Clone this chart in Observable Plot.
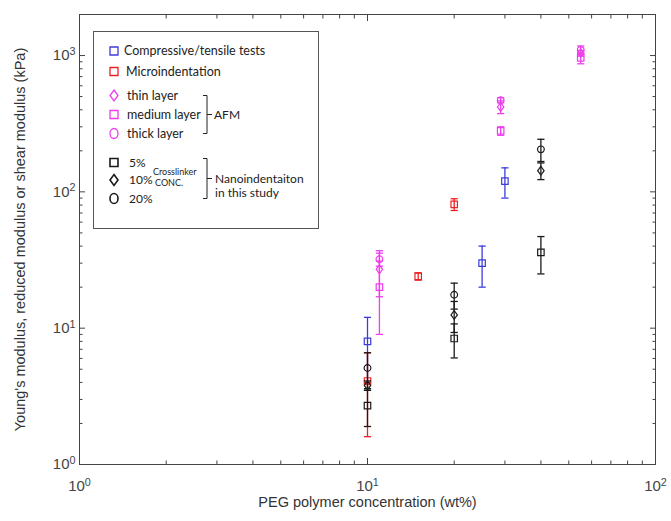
<!DOCTYPE html>
<html><head><meta charset="utf-8">
<script src="https://cdn.jsdelivr.net/npm/d3@7"></script>
<script src="https://cdn.jsdelivr.net/npm/@observablehq/plot@0.6"></script>
<style>
body{margin:0;background:#fff;}
#wrap{position:relative;width:671px;height:521px;overflow:hidden;}
#legend{position:absolute;left:93px;top:31px;}
</style></head><body><div id="wrap"></div>
<script>
// ---- data ----
const compX = [10, 25, 30], compY = [8, 30, 120], compErr = [4, 10, 30];
const microX = [10, 15, 20], microY = [4.1, 24, 81], microErr = [2.5, 1.5, 8];
const afmX = [11, 29, 55];
const thinY = [27, 420, 1040], thinErr = [10, 45, 50];
const mediumY = [20, 280, 960], mediumErr = [11, 20, 90];
const thickY = [32, 470, 1100], thickErr = [3.5, 20, 75];
const nanoX = [10, 20, 40];
const c5Y = [2.7, 8.4, 36], c5Err = [0.8, 2.35, 11];
const c10Y = [3.8, 12.5, 143], c10Err = [0.3, 3.2, 20];
const c20Y = [5.1, 17.6, 205], c20Err = [1.5, 3.8, 38];
const xMajor = [1, 10, 100];
const yMajor = [1, 10, 100, 1000];
const xLabel = "PEG polymer concentration (wt%)";
const yLabel = "Young's modulus, reduced modulus or shear modulus (kPa)";

const BLUE = "#3c3cdc", RED = "#ee2222", PINK = "#ee3cee", BLACK = "#1a1a1a";

const symSquare = {draw(c, size){const r = Math.sqrt(size/Math.PI); const s = r*0.85; c.rect(-s, -s, 2*s, 2*s);}};
const symDiamond = {draw(c, size){const r = Math.sqrt(size/Math.PI); c.moveTo(0, -r*1.15); c.lineTo(r*0.85, 0); c.lineTo(0, r*1.15); c.lineTo(-r*0.85, 0); c.closePath();}};
const symCircle = {draw(c, size){const r = Math.sqrt(size/Math.PI)*0.88; c.moveTo(r, 0); c.arc(0, 0, r, 0, 2*Math.PI);}};
const symCap = {draw(c, size){const r = Math.sqrt(size/Math.PI); c.moveTo(-r, 0); c.lineTo(r, 0);}};

const series = [
  {color: BLUE, sym: symSquare, x: compX, y: compY, err: compErr},
  {color: RED, sym: symSquare, x: microX, y: microY, err: microErr},
  {color: PINK, sym: symDiamond, x: afmX, y: thinY, err: thinErr},
  {color: PINK, sym: symSquare, x: afmX, y: mediumY, err: mediumErr},
  {color: PINK, sym: symCircle, x: afmX, y: thickY, err: thickErr},
  {color: BLACK, sym: symSquare, x: nanoX, y: c5Y, err: c5Err},
  {color: BLACK, sym: symDiamond, x: nanoX, y: c10Y, err: c10Err},
  {color: BLACK, sym: symCircle, x: nanoX, y: c20Y, err: c20Err}
];

const seriesMarks = series.flatMap(s => {
  const rows = s.x.map((x, i) => ({x, y: s.y[i], lo: s.y[i] - s.err[i], hi: s.y[i] + s.err[i]}));
  return [
    Plot.ruleX(rows, {x: "x", y1: "lo", y2: "hi", stroke: s.color, strokeWidth: 1.3}),
    Plot.dot(rows, {x: "x", y: "lo", symbol: symCap, r: 3.6, stroke: s.color, strokeWidth: 1.3}),
    Plot.dot(rows, {x: "x", y: "hi", symbol: symCap, r: 3.6, stroke: s.color, strokeWidth: 1.3}),
    Plot.dot(rows, {x: "x", y: "y", symbol: s.sym, r: 3.8, stroke: s.color, fill: "none", strokeWidth: 1.2})
  ];
});

const xMinor = [], yMinor = [];
for (const d of [1, 10]) for (let k = 2; k <= 9; k++) xMinor.push(k*d);
for (const d of [1, 10, 100]) for (let k = 2; k <= 9; k++) yMinor.push(k*d);

const AX = "#444";
const fmt = d => "10^" + Math.round(Math.log10(d));

const chart = Plot.plot({
  width: 671, height: 521,
  marginLeft: 79, marginRight: 16, marginTop: 14, marginBottom: 57,
  x: {type: "log", domain: [1, 100]},
  y: {type: "log", domain: [1, 2000]},
  style: {fontFamily: "'Liberation Sans', Arial, sans-serif", background: "#fff"},
  marks: [
    // tick marks (inward) on all four sides
    Plot.axisX({anchor: "bottom", ticks: xMajor, tickSize: -6, tickFormat: () => "", label: null, stroke: AX}),
    Plot.axisX({anchor: "bottom", ticks: xMinor, tickSize: -3.5, tickFormat: () => "", label: null, stroke: AX}),
    Plot.axisX({anchor: "top", ticks: xMajor, tickSize: -6, tickFormat: () => "", label: null, stroke: AX}),
    Plot.axisX({anchor: "top", ticks: xMinor, tickSize: -3.5, tickFormat: () => "", label: null, stroke: AX}),
    Plot.axisY({anchor: "left", ticks: yMajor, tickSize: -6, tickFormat: () => "", label: null, stroke: AX}),
    Plot.axisY({anchor: "left", ticks: yMinor, tickSize: -3.5, tickFormat: () => "", label: null, stroke: AX}),
    Plot.axisY({anchor: "right", ticks: yMajor, tickSize: -6, tickFormat: () => "", label: null, stroke: AX}),
    Plot.axisY({anchor: "right", ticks: yMinor, tickSize: -3.5, tickFormat: () => "", label: null, stroke: AX}),
    // tick labels
    Plot.axisX({anchor: "bottom", ticks: xMajor, tickSize: 0, tickPadding: 16, tickFormat: fmt, label: null, fontSize: 15, fill: AX, className: "tl"}),
    Plot.axisY({anchor: "left", ticks: yMajor, tickSize: 0, tickPadding: 4, tickFormat: fmt, label: null, fontSize: 15, fill: AX, className: "tl"}),
    Plot.frame({stroke: AX, strokeWidth: 1}),
    ...seriesMarks,
    Plot.text([xLabel], {frameAnchor: "bottom", textAnchor: "middle", dy: 42, fontSize: 14.5, fill: "#333"}),
    Plot.text([yLabel], {frameAnchor: "left", textAnchor: "middle", dx: -59, rotate: -90, fontSize: 14.5, fill: "#333"})
  ]
});

// superscript exponents in tick labels
d3.select(chart).selectAll("g[aria-label$='tick label'] text").each(function(){
  const t = this.textContent;
  if (t.includes("^")) {
    const [b, e] = t.split("^");
    const sel = d3.select(this);
    sel.text(null);
    sel.append("tspan").text(b);
    sel.append("tspan").attr("dy", "-0.5em").attr("font-size", "72%").text(e);
  }
});

const wrap = document.getElementById("wrap");
wrap.appendChild(chart);

// ---- legend (inside plot area, like the original) ----
const LF = "Lato, 'Open Sans', sans-serif";
const lg = d3.select(wrap).append("svg").attr("id", "legend")
  .attr("width", 227).attr("height", 199)
  .style("font-family", LF);
lg.append("rect").attr("x", 0.5).attr("y", 0.5).attr("width", 225).attr("height", 197)
  .attr("fill", "#fff").attr("stroke", "#555").attr("stroke-width", 1);

const legendItems = [
  {label: "Compressive/tensile tests", color: BLUE, sym: "square", y: 20, tx: 31, fs: 12.5},
  {label: "Microindentation", color: RED, sym: "square", y: 40.5, tx: 33, fs: 12.5},
  {label: "thin layer", color: PINK, sym: "diamond", y: 64.5, tx: 34, fs: 12.5},
  {label: "medium layer", color: PINK, sym: "square", y: 83.5, tx: 34, fs: 12.5},
  {label: "thick layer", color: PINK, sym: "circle", y: 102.5, tx: 34, fs: 12.5},
  {label: "5%", color: BLACK, sym: "square", y: 131.5, tx: 36, fs: 12},
  {label: "10%", color: BLACK, sym: "diamond", y: 149, tx: 36, fs: 12},
  {label: "20%", color: BLACK, sym: "circle", y: 167.5, tx: 36, fs: 12}
];
const symPath = (sym, cx, cy) => {
  if (sym === "square") return `M${cx-4},${cy-4}h8v8h-8Z`;
  if (sym === "diamond") return `M${cx},${cy-5.5}L${cx+4},${cy}L${cx},${cy+5.5}L${cx-4},${cy}Z`;
  return `M${cx+4},${cy}A4,5 0 1,1 ${cx-4},${cy}A4,5 0 1,1 ${cx+4},${cy}Z`;
};
for (const it of legendItems) {
  lg.append("path").attr("d", symPath(it.sym, 21, it.y)).attr("fill", "none")
    .attr("stroke", it.color).attr("stroke-width", it.color === BLACK ? 1.6 : 1.3);
  lg.append("text").attr("x", it.tx).attr("y", it.y).attr("dy", "0.35em")
    .attr("font-size", it.fs).attr("fill", "#222").text(it.label);
}
const brace = (x, y1, y2) => `M${x-4},${y1}H${x}V${y2}H${x-4}M${x},${(y1+y2)/2}H${x+5}`;
lg.append("path").attr("d", brace(114, 64.5, 102.5)).attr("fill", "none").attr("stroke", "#222").attr("stroke-width", 1);
lg.append("path").attr("d", brace(114, 127.5, 167.5)).attr("fill", "none").attr("stroke", "#222").attr("stroke-width", 1);
lg.append("text").attr("x", 121).attr("y", 83.5).attr("dy", "0.35em").attr("font-size", 12).attr("fill", "#222").text("AFM");
lg.append("text").attr("x", 60).attr("y", 140.5).attr("dy", "0.35em").attr("font-size", 9).attr("fill", "#222").text("Crosslinker");
lg.append("text").attr("x", 62).attr("y", 151.5).attr("dy", "0.35em").attr("font-size", 9).attr("fill", "#222").text("CONC.");
lg.append("text").attr("x", 122).attr("y", 147.5).attr("dy", "0.35em").attr("font-size", 12).attr("fill", "#222").text("Nanoindentaiton");
lg.append("text").attr("x", 122).attr("y", 162).attr("dy", "0.35em").attr("font-size", 12).attr("fill", "#222").text("in this study");
</script>
</body></html>
